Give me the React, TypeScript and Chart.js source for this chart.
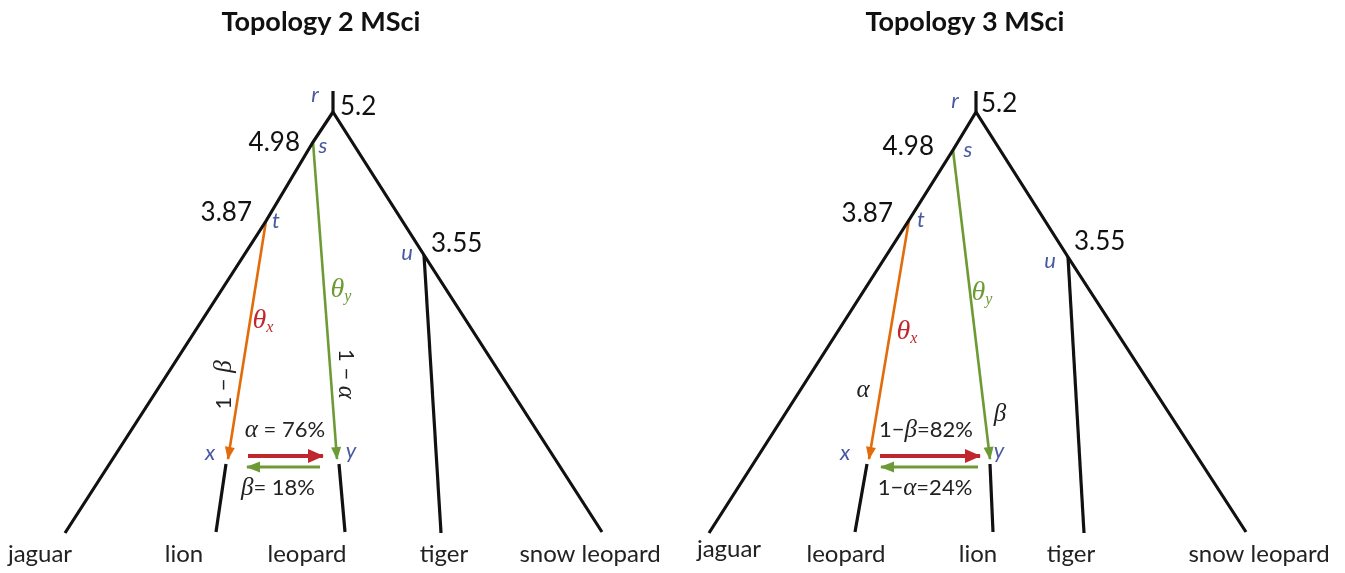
import { useEffect, useRef } from "react";
import { Chart, registerables } from "chart.js";
Chart.register(...registerables);

// ---------- data ----------
const NODE_IDS = ["top", "r", "s", "t", "u", "xTip", "yTip", "x", "y", "L1", "L2", "L3", "L4", "L5"];
const T2_X = [333, 333, 313, 266, 424, 228, 337, 226, 339, 65, 216, 345, 441, 602];
const T2_Y = [91, 112, 142, 221, 255, 459, 459, 464, 464, 533, 532, 532, 533, 532];
const T3_X = [976, 976, 953, 909, 1068, 869, 990, 867, 990, 709, 855, 993, 1084, 1246];
const T3_Y = [91, 112, 150, 220, 257, 459, 459, 464, 464, 533, 532, 532, 533, 532];

const BLACK_PATHS = [["top", "r"], ["r", "s", "t", "L1"], ["r", "u", "L5"], ["u", "L4"], ["x", "L2"], ["y", "L3"]];
const INTRO_X_PATH = ["t", "xTip"];
const INTRO_Y_PATH = ["s", "yTip"];

const T2_FLOW_MAIN = [[248, 456], [323, 456]];
const T2_FLOW_BACK = [[320, 467], [247, 467]];
const T3_FLOW_MAIN = [[880, 456], [980, 456]];
const T3_FLOW_BACK = [[978, 467], [881, 467]];

const TITLES = ["Topology 2 MSci", "Topology 3 MSci"];
const TITLE_X = [321, 965];
const T2_LEAVES = ["jaguar", "lion", "leopard", "tiger", "snow leopard"];
const T3_LEAVES = ["jaguar", "leopard", "lion", "tiger", "snow leopard"];
const T2_LEAF_X = [40, 184, 307, 444, 590];
const T3_LEAF_X = [729, 846, 978, 1071, 1259];
const T3_LEAF_Y = [557, 562, 562, 562, 562];
const NODE_AGES = ["5.2", "4.98", "3.87", "3.55"];

const BLACK = "#111111";
const TXT = "#222222";
const BLUE = "#4a5aa0";
const ORANGE = "#e36c0a";
const GREEN = "#6e9a35";
const RED = "#c0262d";

const F_TITLE = "bold 27px Lato";
const F_NUM = "26px Lato";
const F_NODE = "italic 22px Lato";
const F_GREEK = "italic 25px 'Liberation Serif'";
const F_THETA = "italic 28px 'Liberation Serif'";
const F_SUB = "italic 16px 'Liberation Serif'";
const F_TXT = "22px Lato";
const F_LEAF = "24px Lato";

type Part = [string, string, string, number?];
type Label = { parts: Part[]; x: number; y: number; align: "left" | "center" | "right"; rot?: number };

const T2_LABELS: Label[] = [
  { parts: [["r", F_NODE, BLUE]], x: 315, y: 102, align: "center" },
  { parts: [[NODE_AGES[0], F_NUM, BLACK]], x: 340, y: 115, align: "left" },
  { parts: [[NODE_AGES[1], F_NUM, BLACK]], x: 300, y: 151, align: "right" },
  { parts: [["s", F_NODE, BLUE]], x: 323, y: 153, align: "center" },
  { parts: [[NODE_AGES[2], F_NUM, BLACK]], x: 252, y: 221, align: "right" },
  { parts: [["t", F_NODE, BLUE]], x: 276, y: 228, align: "center" },
  { parts: [[NODE_AGES[3], F_NUM, BLACK]], x: 431, y: 252, align: "left" },
  { parts: [["u", F_NODE, BLUE]], x: 407, y: 260, align: "center" },
  { parts: [["θ", F_THETA, RED], ["x", F_SUB, RED, 4]], x: 263, y: 328, align: "center" },
  { parts: [["θ", F_THETA, GREEN], ["y", F_SUB, GREEN, 4]], x: 341, y: 297, align: "center" },
  { parts: [["1 − ", F_TXT, TXT], ["β", F_GREEK, TXT]], x: 223, y: 385, align: "center", rot: -Math.PI / 2 },
  { parts: [["1 − ", F_TXT, TXT], ["α", F_GREEK, TXT]], x: 347, y: 374, align: "center", rot: Math.PI / 2 },
  { parts: [["α", F_GREEK, TXT], [" = 76%", F_TXT, TXT]], x: 285, y: 437, align: "center" },
  { parts: [["x", F_NODE, BLUE]], x: 210, y: 460, align: "center" },
  { parts: [["y", F_NODE, BLUE]], x: 351, y: 458, align: "center" },
  { parts: [["β", F_GREEK, TXT], ["= 18%", F_TXT, TXT]], x: 278, y: 495, align: "center" },
];

const T3_LABELS: Label[] = [
  { parts: [["r", F_NODE, BLUE]], x: 955, y: 108, align: "center" },
  { parts: [[NODE_AGES[0], F_NUM, BLACK]], x: 981, y: 112, align: "left" },
  { parts: [[NODE_AGES[1], F_NUM, BLACK]], x: 934, y: 155, align: "right" },
  { parts: [["s", F_NODE, BLUE]], x: 968, y: 157, align: "center" },
  { parts: [[NODE_AGES[2], F_NUM, BLACK]], x: 893, y: 222, align: "right" },
  { parts: [["t", F_NODE, BLUE]], x: 921, y: 227, align: "center" },
  { parts: [[NODE_AGES[3], F_NUM, BLACK]], x: 1074, y: 250, align: "left" },
  { parts: [["u", F_NODE, BLUE]], x: 1050, y: 268, align: "center" },
  { parts: [["θ", F_THETA, RED], ["x", F_SUB, RED, 4]], x: 907, y: 339, align: "center" },
  { parts: [["θ", F_THETA, GREEN], ["y", F_SUB, GREEN, 4]], x: 982, y: 300, align: "center" },
  { parts: [["α", F_GREEK, TXT]], x: 863, y: 397, align: "center" },
  { parts: [["β", F_GREEK, TXT]], x: 1000, y: 421, align: "center" },
  { parts: [["1−", F_TXT, TXT], ["β", F_GREEK, TXT], ["=82%", F_TXT, TXT]], x: 926, y: 437, align: "center" },
  { parts: [["x", F_NODE, BLUE]], x: 845, y: 460, align: "center" },
  { parts: [["y", F_NODE, BLUE]], x: 999, y: 458, align: "center" },
  { parts: [["1−", F_TXT, TXT], ["α", F_GREEK, TXT], ["=24%", F_TXT, TXT]], x: 925, y: 495, align: "center" },
];

// ---------- build ----------
function pt(xs: number[], ys: number[], id: string) {
  const i = NODE_IDS.indexOf(id);
  return { x: xs[i], y: ys[i] };
}

function treeDatasets(xs: number[], ys: number[], main: number[][], back: number[][]) {
  const ds: any[] = [];
  BLACK_PATHS.forEach((p) =>
    ds.push({ data: p.map((id) => pt(xs, ys, id)), borderColor: BLACK, borderWidth: 3.2 })
  );
  ds.push({ data: INTRO_X_PATH.map((id) => pt(xs, ys, id)), borderColor: ORANGE, borderWidth: 2.6, arrow: [12, 5] });
  ds.push({ data: INTRO_Y_PATH.map((id) => pt(xs, ys, id)), borderColor: GREEN, borderWidth: 2.6, arrow: [12, 5] });
  ds.push({ data: main.map(([x, y]) => ({ x, y })), borderColor: RED, borderWidth: 4, arrow: [15, 7] });
  ds.push({ data: back.map(([x, y]) => ({ x, y })), borderColor: GREEN, borderWidth: 3, arrow: [13, 5.5] });
  return ds;
}

function drawRich(ctx: CanvasRenderingContext2D, parts: Part[], x: number, y: number, align: string, rot?: number) {
  ctx.save();
  ctx.translate(x, y);
  let dyBase = 0;
  if (rot) {
    ctx.rotate(rot);
    dyBase = 8;
  }
  ctx.textBaseline = "alphabetic";
  ctx.textAlign = "left";
  const widths = parts.map((p) => {
    ctx.font = p[1];
    return ctx.measureText(p[0]).width;
  });
  const total = widths.reduce((a, b) => a + b, 0);
  let cur = align === "center" ? -total / 2 : align === "right" ? -total : 0;
  parts.forEach((p, i) => {
    ctx.font = p[1];
    ctx.fillStyle = p[2];
    ctx.fillText(p[0], cur, dyBase + (p[3] || 0));
    cur += widths[i];
  });
  ctx.restore();
}

const arrowPlugin = {
  id: "arrowHeads",
  afterDatasetsDraw(chart: any) {
    const ctx = chart.ctx;
    chart.data.datasets.forEach((d: any, i: number) => {
      if (!d.arrow) return;
      const pts = chart.getDatasetMeta(i).data;
      const a = pts[pts.length - 2];
      const b = pts[pts.length - 1];
      const ang = Math.atan2(b.y - a.y, b.x - a.x);
      const [len, hw] = d.arrow;
      ctx.save();
      ctx.translate(b.x, b.y);
      ctx.rotate(ang);
      ctx.fillStyle = d.borderColor;
      ctx.beginPath();
      ctx.moveTo(1, 0);
      ctx.lineTo(-len, -hw);
      ctx.lineTo(-len, hw);
      ctx.closePath();
      ctx.fill();
      ctx.restore();
    });
  },
};

const textPlugin = {
  id: "treeText",
  afterDraw(chart: any) {
    const ctx = chart.ctx;
    const sx = chart.scales.x;
    const sy = chart.scales.y;
    const P = (x: number) => sx.getPixelForValue(x);
    const Q = (y: number) => sy.getPixelForValue(y);
    TITLES.forEach((t, i) => drawRich(ctx, [[t, F_TITLE, BLACK]], P(TITLE_X[i]), Q(31), "center"));
    T2_LEAVES.forEach((t, i) => drawRich(ctx, [[t, F_LEAF, TXT]], P(T2_LEAF_X[i]), Q(562), "center"));
    T3_LEAVES.forEach((t, i) => drawRich(ctx, [[t, F_LEAF, TXT]], P(T3_LEAF_X[i]), Q(T3_LEAF_Y[i]), "center"));
    [...T2_LABELS, ...T3_LABELS].forEach((l) => drawRich(ctx, l.parts, P(l.x), Q(l.y), l.align, l.rot));
  },
};

export default function App() {
  const ref = useRef<HTMLCanvasElement>(null);
  useEffect(() => {
    document.body.style.margin = "0";
    const datasets = [
      ...treeDatasets(T2_X, T2_Y, T2_FLOW_MAIN, T2_FLOW_BACK),
      ...treeDatasets(T3_X, T3_Y, T3_FLOW_MAIN, T3_FLOW_BACK),
    ].map((d) => ({ ...d, showLine: true, pointRadius: 0, borderCapStyle: "butt", borderJoinStyle: "miter", tension: 0, clip: false }));
    const chart = new Chart(ref.current!, {
      type: "scatter",
      data: { datasets },
      options: {
        animation: false,
        responsive: false,
        maintainAspectRatio: false,
        layout: { padding: 0 },
        plugins: { legend: { display: false }, tooltip: { enabled: false }, title: { display: false } },
        scales: {
          x: { type: "linear", min: 0, max: 1345, display: false },
          y: { type: "linear", min: 0, max: 573, reverse: true, display: false },
        },
        events: [],
      },
      plugins: [arrowPlugin, textPlugin],
    } as any);
    return () => chart.destroy();
  }, []);
  return (
    <div style={{ width: 1345, height: 573, background: "#fff" }}>
      <canvas ref={ref} width={1345} height={573} style={{ display: "block" }} />
    </div>
  );
}
